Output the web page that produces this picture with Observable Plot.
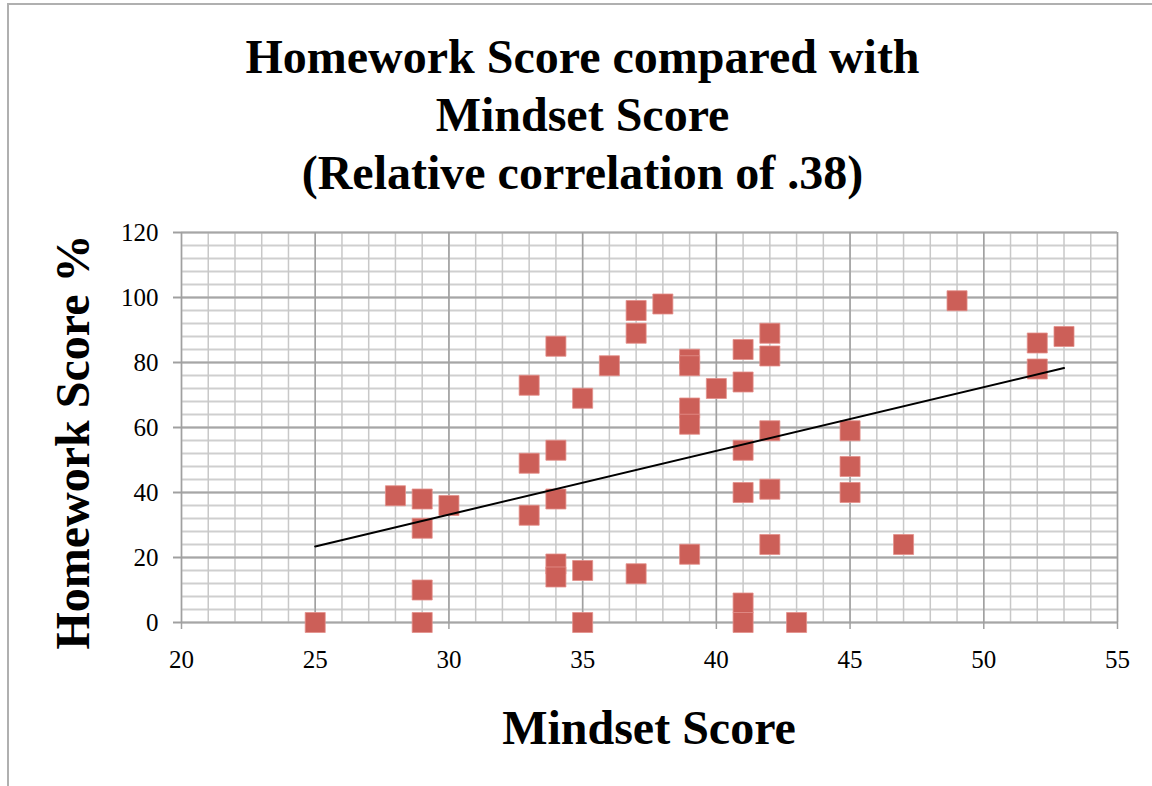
<!DOCTYPE html>
<html>
<head>
<meta charset="utf-8">
<script src="https://cdn.jsdelivr.net/npm/d3@7"></script>
<script src="https://cdn.jsdelivr.net/npm/@observablehq/plot@0.6"></script>
<style>
  html, body { margin: 0; padding: 0; background: #fff; }
  #wrap { position: relative; width: 1152px; height: 786px; overflow: hidden; font-family: "Liberation Serif", "Times New Roman", serif; }
  #frame { position: absolute; left: 7px; top: 3px; width: 1300px; height: 1000px; border: 2px solid #b0b0b0; box-sizing: border-box; }
  .t { position: absolute; font-weight: bold; color: #000; white-space: nowrap; }
  #title { left: 0; width: 1165px; top: 28px; text-align: center; font-size: 48px; line-height: 58px; }
  #xlabel { left: 0; width: 1298px; top: 704px; text-align: center; font-size: 48px; line-height: 48px; }
  #ylabel { left: -177px; top: 418px; width: 500px; height: 48px; text-align: center; font-size: 48px; line-height: 48px; transform: rotate(-90deg); transform-origin: 50% 50%; }
  #chart { position: absolute; left: 0; top: 0; }
  #chart svg text { font-family: "Liberation Serif", "Times New Roman", serif; }
</style>
</head>
<body>
<div id="wrap">
  <div id="frame"></div>
  <div id="chart"></div>
  <div class="t" id="title">Homework Score compared with<br>Mindset Score<br>(Relative correlation of .38)</div>
  <div class="t" id="ylabel">Homework Score %</div>
  <div class="t" id="xlabel">Mindset Score</div>
</div>
<script>
// Data
const mindset = [25, 28, 29, 29, 29, 29, 30, 33, 33, 33, 34, 34, 34, 34, 34, 35, 35, 35, 36, 37, 37, 37, 38,
                 39, 39, 39, 39, 39, 40, 41, 41, 41, 41, 41, 41, 42, 42, 42, 42, 42, 43, 45, 45, 45, 47, 49, 52, 52, 53];
const homework = [0, 39, 38, 29, 10, 0, 36, 73, 49, 33, 85, 53, 38, 18, 14, 69, 16, 0, 79, 96, 89, 15, 98,
                  81, 79, 66, 61, 21, 72, 84, 74, 53, 40, 6, 0, 89, 82, 59, 41, 24, 0, 59, 48, 40, 24, 99, 86, 78, 88];

const xTicks = [20, 25, 30, 35, 40, 45, 50, 55];
const yTicks = [0, 20, 40, 60, 80, 100, 120];
const xMinor = d3.range(20, 56, 1);
const yMinor = d3.range(0, 121, 4);

const data = mindset.map((m, i) => ({mindset: m, homework: homework[i]}));
const serif = "'Liberation Serif', 'Times New Roman', serif";

const chart = Plot.plot({
  width: 1152,
  height: 786,
  marginLeft: 181,
  marginRight: 35,
  marginTop: 232,
  marginBottom: 164,
  style: {fontFamily: serif, background: "transparent", color: "#000"},
  x: {domain: [20, 55], label: null},
  y: {domain: [0, 120], label: null},
  marks: [
    Plot.gridY(yMinor, {stroke: "#cfcfcf", strokeOpacity: 1, strokeWidth: 2}),
    Plot.gridX(xMinor, {stroke: "#c8c8c8", strokeOpacity: 1, strokeWidth: 1.5}),
    Plot.gridY(yTicks, {stroke: "#a6a6a6", strokeOpacity: 1, strokeWidth: 2}),
    Plot.gridX(xTicks, {stroke: "#a0a0a0", strokeOpacity: 1, strokeWidth: 1.5}),
    Plot.axisX(xTicks, {tickSize: 7, tickPadding: 21, fontSize: 25, fontFamily: serif, stroke: "#a0a0a0", strokeWidth: 1.5, fill: "#000", label: null}),
    Plot.axisY(yTicks, {tickSize: 8, tickPadding: 15, fontSize: 25, fontFamily: serif, stroke: "#a0a0a0", strokeWidth: 2, fill: "#000", label: null}),
    Plot.dot(data, {x: "mindset", y: "homework", symbol: "square", r: 11.3, fill: "#cc5f58", stroke: "#e3918b", strokeWidth: 0.8}),
    Plot.linearRegressionY(data, {x: "mindset", y: "homework", ci: 0, stroke: "#000", strokeWidth: 2})
  ]
});
document.getElementById("chart").appendChild(chart);
</script>
</body>
</html>
